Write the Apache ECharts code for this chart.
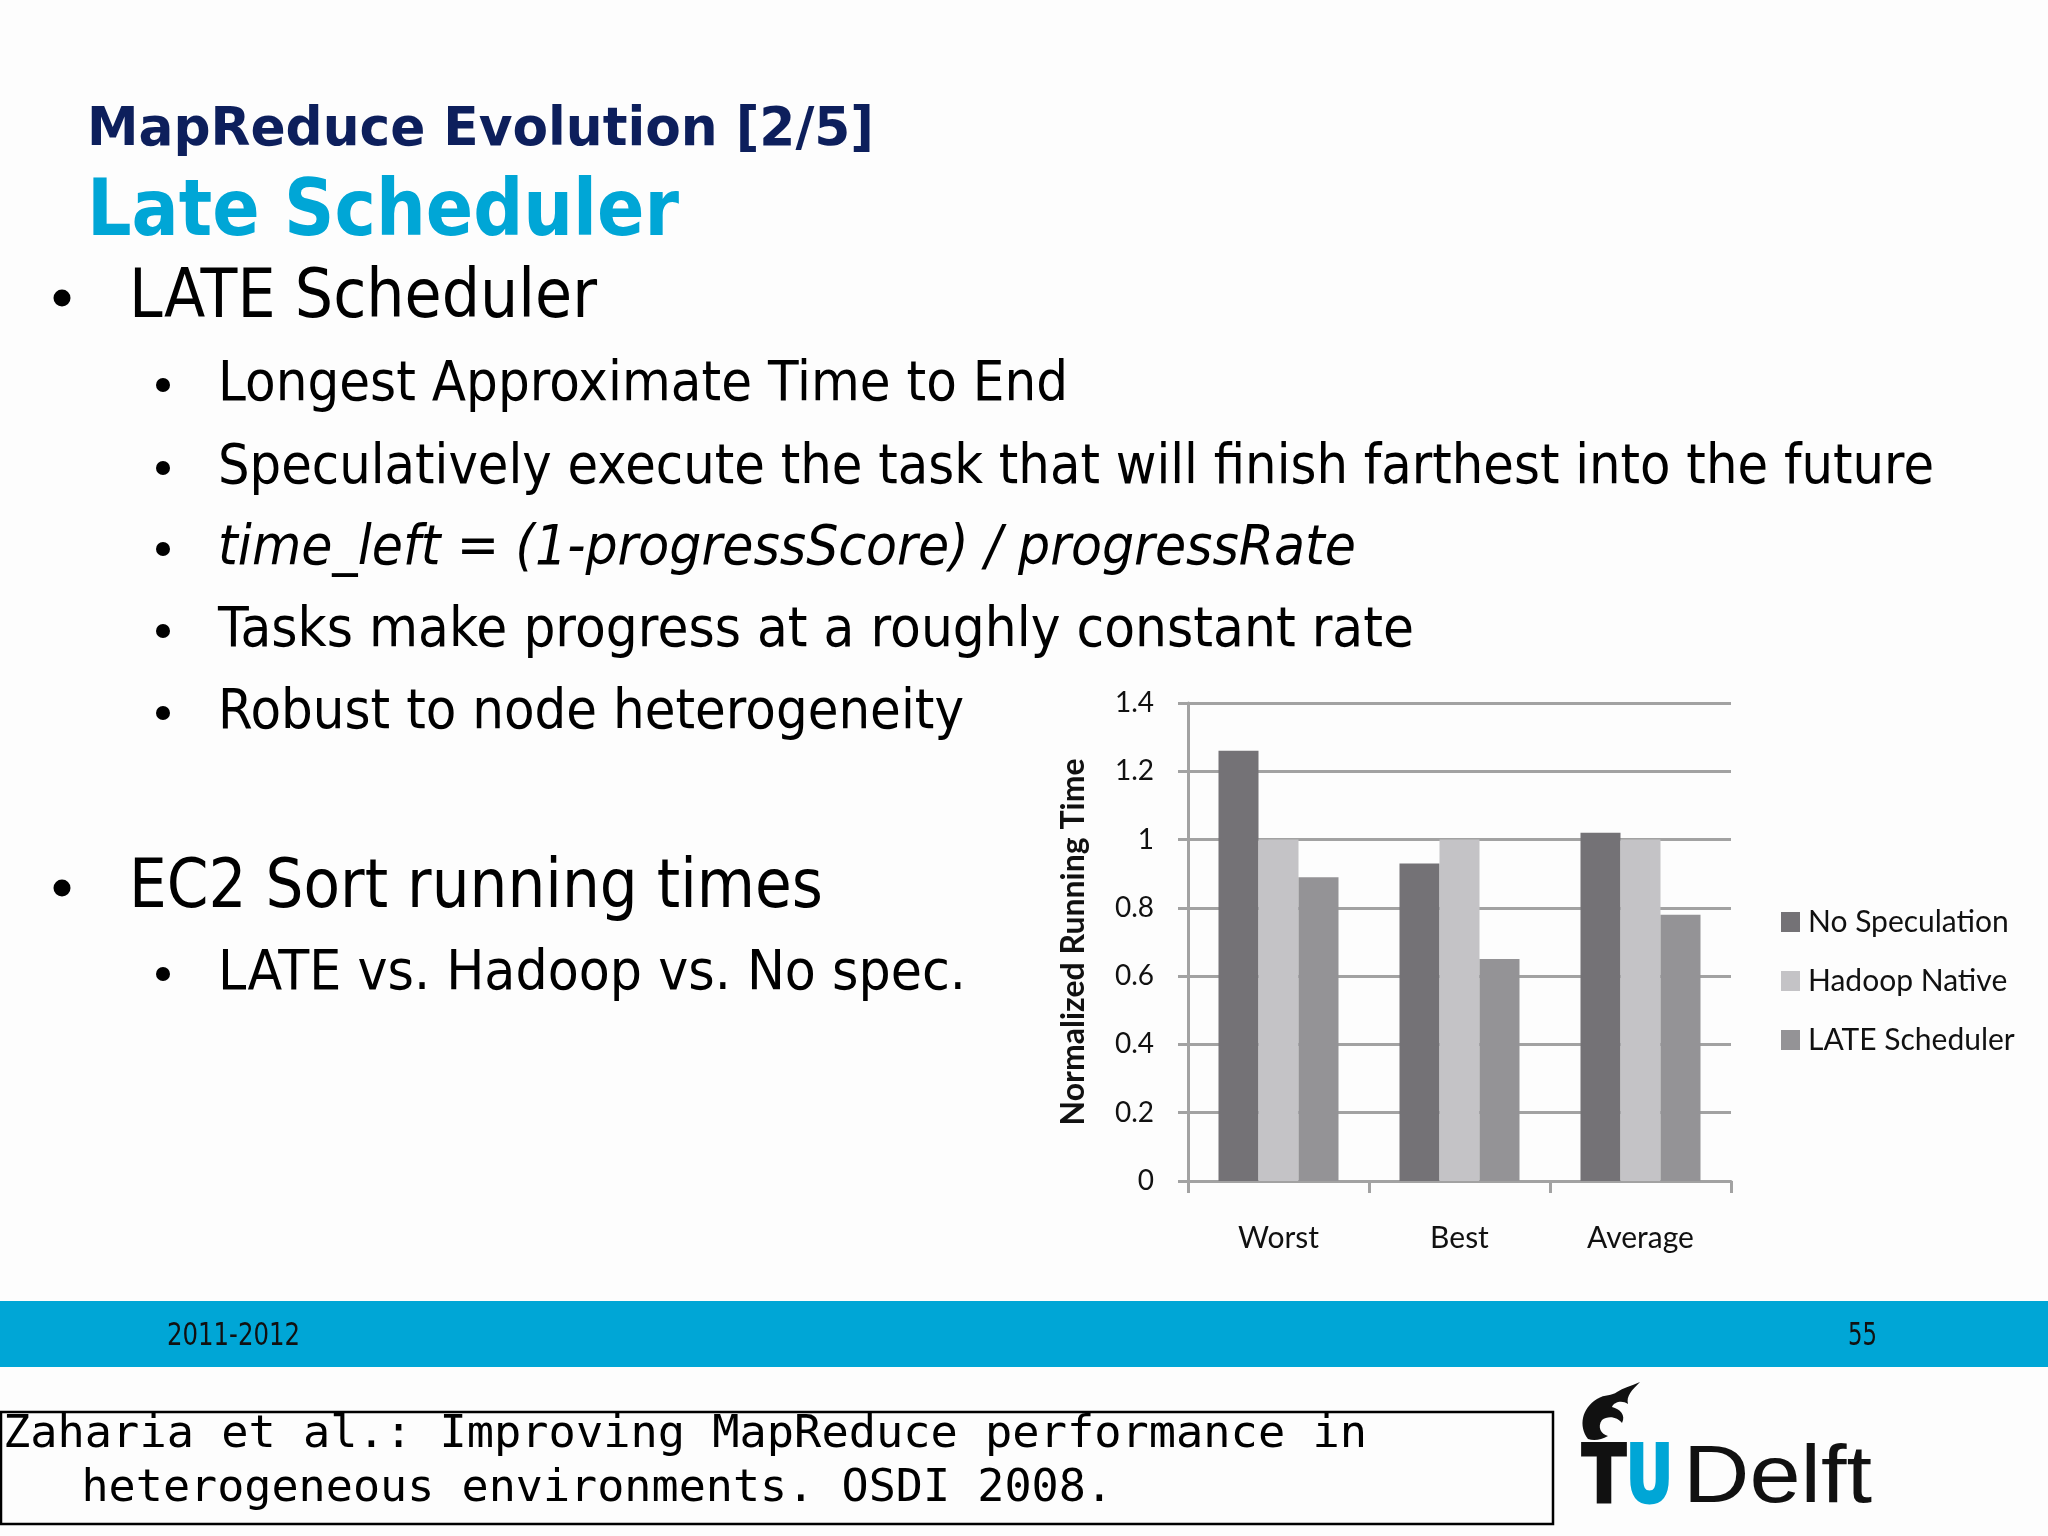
<!DOCTYPE html>
<html>
<head>
<meta charset="utf-8">
<script src="https://cdn.jsdelivr.net/npm/echarts@6/dist/echarts.min.js"></script>
<style>
html,body{margin:0;padding:0;background:#fdfdfd;}
#c{width:2048px;height:1536px;}
</style>
</head>
<body>
<div id="c"></div>
<script>
// ---- chart data ----
const categories = ['Worst', 'Best', 'Average'];
const seriesNames = ['No Speculation', 'Hadoop Native', 'LATE Scheduler'];
const noSpeculation = [1.26, 0.93, 1.02];
const hadoopNative = [1.0, 1.0, 1.0];
const lateScheduler = [0.89, 0.65, 0.78];
const yTicks = [0, 0.2, 0.4, 0.6, 0.8, 1, 1.2, 1.4];
const yAxisName = 'Normalized Running Time';

// ---- slide text ----
const titleLine1 = 'MapReduce Evolution [2/5]';
const titleLine2 = 'Late Scheduler';
const bulletsTop = ['LATE Scheduler'];
const subBulletsTop = [
  'Longest Approximate Time to End',
  'Speculatively execute the task that will finish farthest into the future',
  'time_left = (1-progressScore) / progressRate',
  'Tasks make progress at a roughly constant rate',
  'Robust to node heterogeneity'
];
const bulletsBottom = ['EC2 Sort running times'];
const subBulletsBottom = ['LATE vs. Hadoop vs. No spec.'];
const footerLeft = '2011-2012';
const footerRight = '55';
const citation = ['Zaharia et al.: Improving MapReduce performance in', '   heterogeneous environments. OSDI 2008.'];

const meas = document.createElement('canvas').getContext('2d');
function fitScale(text, size, family, weight, style, target) {
  meas.font = (style || 'normal') + ' ' + (weight || 'normal') + ' ' + size + 'px ' + family;
  return target / meas.measureText(text).width;
}
function txt(text, x, y, size, family, color, target, weight, style, align) {
  const sx = target ? fitScale(text, size, family, weight, style, target) : 1;
  return {
    type: 'text', x: x, y: y + 0.08 * size, scaleX: sx, scaleY: 1,
    style: {
      text: text, fill: color, fontSize: size, fontFamily: family,
      fontWeight: weight || 'normal', fontStyle: style || 'normal',
      align: align || 'left', verticalAlign: 'middle',
      textAlign: align || 'left', textVerticalAlign: 'middle'
    }
  };
}

// flame shape of the logo
const Flame = echarts.graphic.extendShape({
  shape: {},
  buildPath: function (ctx) {
    ctx.moveTo(1588, 1439);
    ctx.bezierCurveTo(1578, 1426, 1582, 1408, 1597, 1399);
    ctx.bezierCurveTo(1605, 1394, 1612, 1396, 1617, 1392);
    ctx.bezierCurveTo(1623, 1388, 1631, 1386, 1640, 1382);
    ctx.bezierCurveTo(1632, 1390, 1626, 1396, 1628, 1404);
    ctx.bezierCurveTo(1622, 1400, 1614, 1402, 1612, 1407);
    ctx.bezierCurveTo(1620, 1409, 1626, 1415, 1622, 1423);
    ctx.bezierCurveTo(1618, 1417, 1608, 1415, 1602, 1420);
    ctx.bezierCurveTo(1597, 1427, 1601, 1434, 1608, 1436);
    ctx.bezierCurveTo(1601, 1440, 1594, 1441, 1588, 1439);
    ctx.closePath();
  }
});
echarts.graphic.registerShape('tuflame', Flame);

const body = 'DejaVu Sans';
const g = [];
// titles
g.push(txt(titleLine1, 87, 127, 53, body, '#0d1f5c', 787, 'bold'));
g.push(txt(titleLine2, 87, 208, 78, body, '#00a6d6', 592, 'bold'));
// top bullets
g.push({type:'circle', shape:{cx:62, cy:298, r:8.5}, style:{fill:'#000'}});
g.push(txt(bulletsTop[0], 129, 294, 68, body, '#000', 468));
const subY = [381, 464, 545, 627, 709];
const subW = [850, 1716, 1138, 1196, 746];
subBulletsTop.forEach(function (t, i) {
  g.push({type:'circle', shape:{cx:163, cy:subY[i] + 4, r:7}, style:{fill:'#000'}});
  g.push(txt(t, 218, subY[i], 55, body, '#000', subW[i], 'normal', i === 2 ? 'italic' : 'normal'));
});
g.push({type:'circle', shape:{cx:62, cy:888, r:8.5}, style:{fill:'#000'}});
g.push(txt(bulletsBottom[0], 129, 884, 68, body, '#000', 694));
g.push({type:'circle', shape:{cx:163, cy:974, r:7}, style:{fill:'#000'}});
g.push(txt(subBulletsBottom[0], 218, 970, 55, body, '#000', 748));
// footer band
g.push({type:'rect', shape:{x:0, y:1301, width:2048, height:66}, style:{fill:'#00a6d6'}});
g.push(txt(footerLeft, 167, 1334, 32, body, '#111', 133));
g.push(txt(footerRight, 1848, 1334, 32, body, '#111', 29));
// citation box
g.push({type:'rect', shape:{x:1, y:1412, width:1552, height:112}, style:{fill:'none', stroke:'#000', lineWidth:2.5}});
g.push(txt(citation[0], 3, 1432, 45, 'DejaVu Sans Mono', '#000', 1364));
g.push(txt(citation[1], 0, 1486, 45, 'DejaVu Sans Mono', '#000', 1113));
// TU Delft logo
g.push({type:'tuflame', shape:{}, style:{fill:'#111'}});
const tT = txt('T', 1582, 1475, 80, 'DejaVu Sans', '#111', 44, 'bold');
tT.style.stroke = '#111'; tT.style.lineWidth = 3;
const tU = txt('U', 1626, 1475, 80, 'DejaVu Sans', '#00a6d6', 47, 'bold');
tU.style.stroke = '#00a6d6'; tU.style.lineWidth = 3;
g.push(tT, tU);
g.push(txt('Delft', 1683, 1473, 82, 'Liberation Sans', '#111', 189));

const chart = echarts.init(document.getElementById('c'), null, {renderer: 'canvas', width: 2048, height: 1536});
const axisGray = '#a2a2a2';
const chartFont = 'Lato';
chart.setOption({
  backgroundColor: '#fdfdfd',
  animation: false,
  textStyle: {fontFamily: chartFont},
  grid: {left: 1188, top: 703, width: 543, height: 478, containLabel: false},
  legend: {
    orient: 'vertical', left: 1776, top: 902,
    itemWidth: 19, itemHeight: 20, itemGap: 29, icon: 'rect',
    data: seriesNames,
    textStyle: {fontFamily: chartFont, fontSize: 30, color: '#111', padding: [0, 0, 0, 3]}
  },
  xAxis: {
    type: 'category', data: categories,
    axisLine: {show: true, lineStyle: {color: axisGray, width: 3}},
    axisTick: {show: true, length: 12, interval: 0, lineStyle: {color: axisGray, width: 3}},
    axisLabel: {fontSize: 30, color: '#111', margin: 42, fontFamily: chartFont},
    splitLine: {show: false}
  },
  yAxis: {
    type: 'value', min: 0, max: 1.4, interval: 0.2,
    name: yAxisName, nameLocation: 'middle', nameGap: 98,
    nameTextStyle: {fontFamily: chartFont, fontWeight: 'bold', fontSize: 32, color: '#111'},
    axisLine: {show: true, lineStyle: {color: axisGray, width: 3}},
    axisTick: {show: true, length: 10, lineStyle: {color: axisGray, width: 3}},
    axisLabel: {fontSize: 28, color: '#111', margin: 34, fontFamily: chartFont,
      formatter: function (v) { const m = yTicks.find(function (t) { return Math.abs(t - v) < 1e-6; }); return String(m !== undefined ? m : v); }},
    splitLine: {show: true, lineStyle: {color: axisGray, width: 3}}
  },
  series: [
    {name: seriesNames[0], type: 'bar', data: noSpeculation, barWidth: 40, barGap: '0%', itemStyle: {color: '#747276'}},
    {name: seriesNames[1], type: 'bar', data: hadoopNative, barWidth: 40, barGap: '0%', itemStyle: {color: '#c4c3c6'}},
    {name: seriesNames[2], type: 'bar', data: lateScheduler, barWidth: 40, barGap: '0%', itemStyle: {color: '#949396'}}
  ],
  graphic: {elements: g}
});
</script>
</body>
</html>
